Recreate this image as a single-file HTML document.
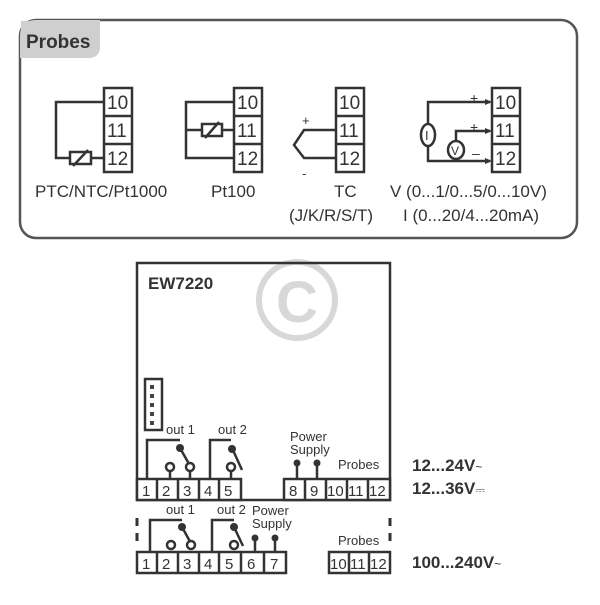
<!DOCTYPE html>
<html><head><meta charset="utf-8"><style>
body{margin:0;background:#fff;width:600px;height:600px;overflow:hidden}
svg text{font-family:"Liberation Sans",sans-serif;fill:#333}
</style></head><body>
<svg width="600" height="600" viewBox="0 0 600 600" xmlns="http://www.w3.org/2000/svg">
<!-- Probes frame -->
<rect x="20" y="20" width="557" height="218" rx="16" fill="none" stroke="#555" stroke-width="2.5"/>
<path d="M21,21 H100 V46 Q100,58 88,58 H21 Z" fill="#cfcfcf"/>
<path d="M20,36 Q20,20 36,20 H100 V46 Q100,58 88,58 H20 Z" fill="#cfcfcf"/>
<text x="26" y="48" font-size="19" font-weight="bold" fill="#222">Probes</text>
<g stroke="#333" stroke-width="2.5" fill="#fff">
<rect x="104" y="88" width="28" height="84"/><line x1="104" y1="116" x2="132" y2="116"/><line x1="104" y1="144" x2="132" y2="144"/>
<rect x="234" y="88" width="28" height="84"/><line x1="234" y1="116" x2="262" y2="116"/><line x1="234" y1="144" x2="262" y2="144"/>
<rect x="336" y="88" width="28" height="84"/><line x1="336" y1="116" x2="364" y2="116"/><line x1="336" y1="144" x2="364" y2="144"/>
<rect x="492" y="88" width="28" height="84"/><line x1="492" y1="116" x2="520" y2="116"/><line x1="492" y1="144" x2="520" y2="144"/>
</g>
<g font-size="19">
<text x="107" y="109">10</text><text x="107" y="137">11</text><text x="107" y="165">12</text>
<text x="237" y="109">10</text><text x="237" y="137">11</text><text x="237" y="165">12</text>
<text x="339" y="109">10</text><text x="339" y="137">11</text><text x="339" y="165">12</text>
<text x="495" y="109">10</text><text x="495" y="137">11</text><text x="495" y="165">12</text>
</g>
<g stroke="#333" stroke-width="2.5" fill="none">
<path d="M104,102 H56 V158 H104"/>
<rect x="70" y="152" width="21" height="12" fill="#fff"/><line x1="73" y1="166" x2="88" y2="150"/>
<path d="M234,102 H186 V158 H234 M186,130 H234"/>
<rect x="202" y="124" width="20" height="12" fill="#fff"/><line x1="205" y1="138" x2="219" y2="122"/>
<path d="M336,130 H304 L294,145 L304,158 H336"/>
<path d="M428,124 V102 H490 M428,146 V161 H490 M456,142 V131 H490 M456,158 V161"/>
<ellipse cx="428" cy="135" rx="7" ry="11" fill="#fff"/>
<ellipse cx="456" cy="150" rx="8" ry="9" fill="#fff"/>
</g>
<g fill="#333"><path d="M492,102 l-7,-3 v6z M492,131 l-7,-3 v6z M492,161 l-7,-3 v6z"/></g>
<text x="425" y="140" font-size="13">I</text><text x="451" y="155" font-size="12">V</text>
<text x="470" y="103" font-size="14">+</text><text x="470" y="132" font-size="14">+</text><text x="472" y="158" font-size="14">–</text>
<text x="302" y="125" font-size="13">+</text><text x="302" y="178" font-size="13">-</text>
<g font-size="17">
<text x="35" y="197">PTC/NTC/Pt1000</text>
<text x="211" y="197">Pt100</text>
<text x="334" y="197">TC</text>
<text x="289" y="221">(J/K/R/S/T)</text>
<text x="390" y="197">V (0...1/0...5/0...10V)</text>
<text x="403" y="221">I (0...20/4...20mA)</text>
</g>
<!-- watermark -->
<circle cx="297" cy="300" r="38" fill="none" stroke="#d8d8d8" stroke-width="6"/>
<text x="297" y="322" font-size="58" font-weight="bold" text-anchor="middle" style="fill:#d8d8d8">C</text>
<!-- EW box -->
<g stroke="#333" stroke-width="2.5" fill="none">
<path d="M137,500 V263 H390 V500 Z"/>
<rect x="145" y="379" width="17" height="51" fill="#fff"/>
</g>
<g fill="#444"><rect x="150" y="385" width="4" height="4"/><rect x="150" y="394" width="4" height="4"/><rect x="150" y="403" width="4" height="4"/><rect x="150" y="412" width="4" height="4"/><rect x="150" y="421" width="4" height="4"/></g>
<text x="148" y="289" font-size="17" font-weight="bold" fill="#222">EW7220</text>
<g stroke="#333" stroke-width="2.5" fill="#fff">
<rect x="137" y="479" width="104" height="21"/>
<path d="M157,479V500M178,479V500M199,479V500M219,479V500" fill="none"/>
<rect x="284" y="479" width="106" height="21"/>
<path d="M305,479V500M326,479V500M347,479V500M368,479V500" fill="none"/>
<path d="M147,479 V440 H180 M210,479 V440 H231" fill="none"/>
<path d="M180,448 L193,471 M232,448 L242,470 M170,479 V472 M190,479 V472 M231,479 V472 M297,479 V462 M317,479 V462" fill="none"/>
<circle cx="170" cy="467" r="4"/><circle cx="190" cy="467" r="4"/><circle cx="231" cy="467" r="4"/>
</g>
<g fill="#333"><circle cx="180" cy="448" r="4"/><circle cx="232" cy="449" r="4"/><circle cx="297" cy="463" r="3.5"/><circle cx="317" cy="463" r="3.5"/></g>
<g font-size="15">
<text x="142" y="496">1</text><text x="162" y="496">2</text><text x="183" y="496">3</text><text x="204" y="496">4</text><text x="224" y="496">5</text>
<text x="289" y="496">8</text><text x="310" y="496">9</text><text x="327" y="496">10</text><text x="348" y="496">11</text><text x="369" y="496">12</text>
</g>
<g font-size="13">
<text x="166" y="434">out 1</text><text x="218" y="434">out 2</text>
<text x="290" y="441">Power</text><text x="290" y="454">Supply</text>
<text x="338" y="469">Probes</text>
</g>
<!-- bottom block -->
<g stroke="#333" stroke-width="2.5" fill="#fff">
<rect x="137" y="552" width="149" height="21"/>
<path d="M157,552V573M178,552V573M199,552V573M219,552V573M241,552V573M264,552V573" fill="none"/>
<rect x="329" y="552" width="61" height="21"/>
<path d="M349,552V573M369,552V573" fill="none"/>
<path d="M137,518V526 M137,533V541 M390,518V526 M390,533V541" fill="none" stroke-width="3"/>
<path d="M150,552 V520 H182 M212,552 V520 H234" fill="none"/>
<path d="M182,527 L193,547 M234,527 L243,546 M255,552 V538 M275,552 V538" fill="none"/>
<circle cx="171" cy="545" r="4"/><circle cx="191" cy="545" r="4"/><circle cx="234" cy="545" r="4"/>
</g>
<g fill="#333"><circle cx="182" cy="527" r="4"/><circle cx="234" cy="527" r="4"/><circle cx="255" cy="538" r="3.5"/><circle cx="275" cy="538" r="3.5"/></g>
<g font-size="15">
<text x="142" y="569">1</text><text x="162" y="569">2</text><text x="183" y="569">3</text><text x="204" y="569">4</text><text x="225" y="569">5</text><text x="247" y="569">6</text><text x="270" y="569">7</text>
<text x="330" y="569">10</text><text x="350" y="569">11</text><text x="370" y="569">12</text>
</g>
<g font-size="13">
<text x="166" y="514">out 1</text><text x="217" y="514">out 2</text>
<text x="252" y="515">Power</text><text x="252" y="528">Supply</text>
<text x="338" y="545">Probes</text>
</g>
<g font-size="17" font-weight="bold" fill="#222">
<text x="412" y="471">12...24V<tspan font-size="12" font-weight="normal">~</tspan></text>
<text x="412" y="494">12...36V<tspan font-size="12" font-weight="normal">⎓</tspan></text>
<text x="412" y="568">100...240V<tspan font-size="12" font-weight="normal">~</tspan></text>
</g>
</svg>
</body></html>
